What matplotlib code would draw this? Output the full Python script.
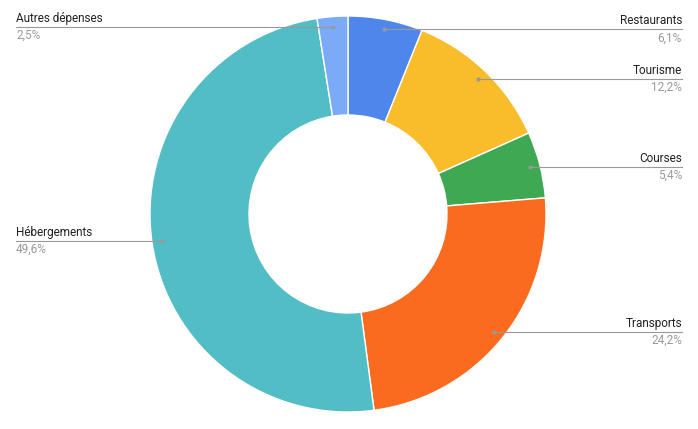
import numpy as np
import matplotlib.pyplot as plt

categories = ['Restaurants', 'Tourisme', 'Courses', 'Transports', 'Hébergements', 'Autres dépenses']
values = [6.1, 12.2, 5.4, 24.2, 49.6, 2.5]
labels_pct = ['6,1%', '12,2%', '5,4%', '24,2%', '49,6%', '2,5%']
colors = ['#4f86ec', '#f9bc2b', '#3ea852', '#fb6b1f', '#52bdc5', '#7baaf7']

W, H = 698, 429
fig = plt.figure(figsize=(W / 100, H / 100), dpi=100)
ax = fig.add_axes([0, 0, 1, 1])
ax.set_xlim(0, W)
ax.set_ylim(0, H)
ax.set_aspect('equal')
ax.axis('off')

cx, cy = 348, H - 214
R = 198
wedges, _ = ax.pie(values, colors=colors, startangle=90, counterclock=False,
                   radius=R, center=(cx, cy), frame=True,
                   wedgeprops={'width': R - 99, 'edgecolor': 'white', 'linewidth': 1})
ax.set_xlim(0, W)
ax.set_ylim(0, H)
ax.axis('off')

for w, name, pct in zip(wedges, categories, labels_pct):
    mid = np.deg2rad((w.theta1 + w.theta2) / 2)
    px = cx + 188 * np.cos(mid)
    py = cy + 188 * np.sin(mid)
    if px >= cx:
        ex, ha = 682, 'right'
    else:
        ex, ha = 16, 'left'
    ax.plot([px, ex], [py, py], color='#999999', lw=0.8)
    ax.plot(px, py, 'o', color='#999999', ms=2)
    ax.text(ex, py + 2, name, ha=ha, va='bottom', fontsize=8.5, color='#222222',
            family='Roboto')
    ax.text(ex, py - 2, pct, ha=ha, va='top', fontsize=8.5, color='#999999',
            family='Roboto')

fig.savefig('out.png', dpi=100, facecolor='white')
